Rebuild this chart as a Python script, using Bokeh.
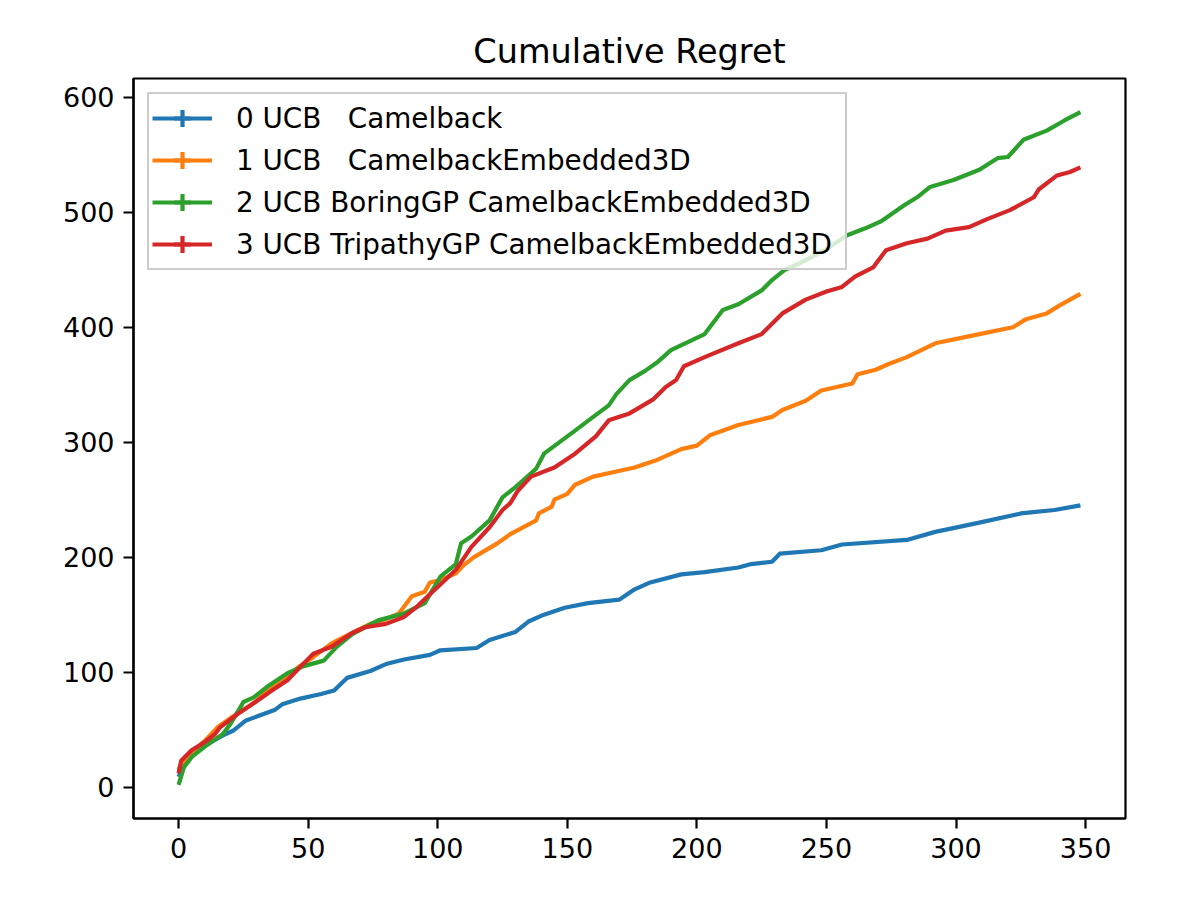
from bokeh.plotting import figure
from bokeh.models import Range1d, FixedTicker
from bokeh.embed import file_html
from bokeh.resources import INLINE

# ---- data (iteration index vs cumulative regret) ----
labels = [
    "0 UCB   Camelback",
    "1 UCB   CamelbackEmbedded3D",
    "2 UCB BoringGP CamelbackEmbedded3D",
    "3 UCB TripathyGP CamelbackEmbedded3D",
]
colors = ["#1f77b4", "#ff7f0e", "#2ca02c", "#d62728"]

x0 = [0, 1, 2, 5, 10, 14, 18, 21, 26, 31, 37, 40, 47, 55, 60, 65, 74, 80, 87, 97,
      101, 115, 120, 130, 135, 141, 149, 158, 170, 176, 182, 194, 203, 216, 221,
      229, 232, 248, 256, 281, 292, 309, 325, 338, 348]
y0 = [9, 14, 20, 28, 36, 41, 46, 49, 58, 62, 67, 72, 77, 81, 84, 95, 101, 107, 111, 115,
      119, 121, 128, 135, 144, 150, 156, 160, 163, 172, 178, 185, 187, 191, 194,
      196, 203, 206, 211, 215, 222, 230, 238, 241, 245]

x1 = [0, 1, 5, 10, 15, 20, 25, 30, 35, 40, 46, 52, 59, 66, 74, 80, 85, 90, 95, 97,
      101, 107, 110, 114, 123, 128, 138, 139, 144, 145, 150, 153, 160, 168, 176, 184,
      194, 200, 205, 216, 229, 233, 242, 248, 260, 262, 269, 274, 281, 292, 309, 322,
      327, 335, 340, 348]
y1 = [15, 20, 30, 40, 52, 60, 67, 75, 85, 93, 104, 113, 125, 133, 142, 146, 151, 166, 170, 178,
      180, 186, 193, 200, 212, 220, 232, 238, 244, 250, 255, 263, 270, 274, 278, 284,
      294, 297, 306, 315, 322, 328, 336, 345, 351, 359, 363, 368, 374, 386, 394, 400,
      407, 412, 419, 429]

x2 = [0, 2, 5, 10, 17, 20, 24, 25, 29, 34, 42, 48, 56, 61, 67, 77, 87, 95, 101, 107,
      109, 113, 120, 125, 130, 136, 138, 141, 147, 153, 160, 166, 169, 174, 180, 185,
      190, 203, 210, 216, 225, 229, 234, 240, 250, 258, 265, 271, 280, 285, 290, 299,
      309, 316, 320, 326, 335, 342, 348]
y2 = [2, 17, 26, 35, 46, 55, 70, 74, 78, 87, 99, 105, 110, 122, 133, 145, 151, 160, 183, 194,
      212, 218, 232, 252, 261, 273, 277, 290, 300, 310, 322, 332, 342, 354, 362, 370,
      380, 394, 415, 420, 432, 441, 450, 456, 468, 480, 486, 492, 506, 513, 522, 528,
      537, 547, 548, 563, 571, 580, 587]

x3 = [0, 1, 5, 10, 14, 16, 23, 29, 36, 42, 48, 52, 59, 67, 72, 80, 87, 92, 98, 100,
      107, 113, 120, 125, 128, 131, 136, 145, 153, 161, 166, 174, 183, 188, 192, 195,
      203, 216, 225, 233, 242, 250, 256, 261, 268, 273, 281, 289, 296, 305, 312, 321,
      330, 332, 339, 344, 348]
y3 = [12, 23, 32, 39, 46, 52, 64, 73, 84, 93, 107, 116, 122, 134, 139, 142, 148, 157, 170, 174,
      189, 209, 226, 241, 247, 258, 270, 278, 290, 305, 319, 325, 337, 348, 354, 366,
      374, 386, 394, 412, 424, 431, 435, 444, 452, 467, 473, 477, 484, 487, 494, 502,
      513, 520, 532, 535, 539]

xs = [x0, x1, x2, x3]
ys = [y0, y1, y2, y3]

x_ticks = [0, 50, 100, 150, 200, 250, 300, 350]
y_ticks = [0, 100, 200, 300, 400, 500, 600]

FONT = "DejaVu Sans"

p = figure(
    frame_width=992, frame_height=740,
    x_range=Range1d(-17.4, 365.4), y_range=Range1d(-27.3, 616.3),
    output_backend="svg", toolbar_location=None,
    min_border_left=133, min_border_right=51, min_border_top=78, min_border_bottom=76,
    title="Cumulative Regret",
)
p.background_fill_color = "white"
p.border_fill_color = "white"
p.xgrid.visible = False
p.ygrid.visible = False
p.outline_line_color = "black"
p.outline_line_width = 2.2

p.title.align = "center"
p.title.text_font = FONT
p.title.text_font_size = "33.5px"
p.title.text_font_style = "normal"
p.title.text_color = "black"
p.title.standoff = 15

for ax, ticks in ((p.xaxis[0], x_ticks), (p.yaxis[0], y_ticks)):
    ax.ticker = FixedTicker(ticks=ticks)
    ax.axis_line_width = 2.2
    ax.axis_line_color = "black"
    ax.major_tick_line_width = 2.2
    ax.major_tick_line_color = "black"
    ax.major_tick_out = 10
    ax.major_tick_in = 0
    ax.minor_tick_out = 0
    ax.minor_tick_in = 0
    ax.major_label_text_font = FONT
    ax.major_label_text_font_size = "27px"
    ax.major_label_text_color = "black"
    ax.major_label_standoff = 9

for x, y, c, lab in zip(xs, ys, colors, labels):
    p.line(x, y, line_color=c, line_width=4.2, line_join="round", legend_label=lab)
    # error-bar style "+" handle for the legend; size 0 so nothing shows on the data
    p.scatter(x, y, marker="cross", size=0, line_color=c, line_width=4.2, legend_label=lab)

lg = p.legend[0]
lg.location = "top_left"
lg.margin = 14
lg.padding = 3
lg.spacing = 0
lg.glyph_width = 60
lg.glyph_height = 42
lg.label_height = 42
lg.label_width = 606
lg.label_standoff = 24
lg.label_text_font = FONT
lg.label_text_font_size = "27.8px"
lg.label_text_color = "black"
lg.background_fill_color = "white"
lg.background_fill_alpha = 0.8
lg.border_line_color = "#cccccc"
lg.border_line_width = 2.2
lg.border_line_alpha = 1.0

open("out.html", "w").write(file_html(p, INLINE))
